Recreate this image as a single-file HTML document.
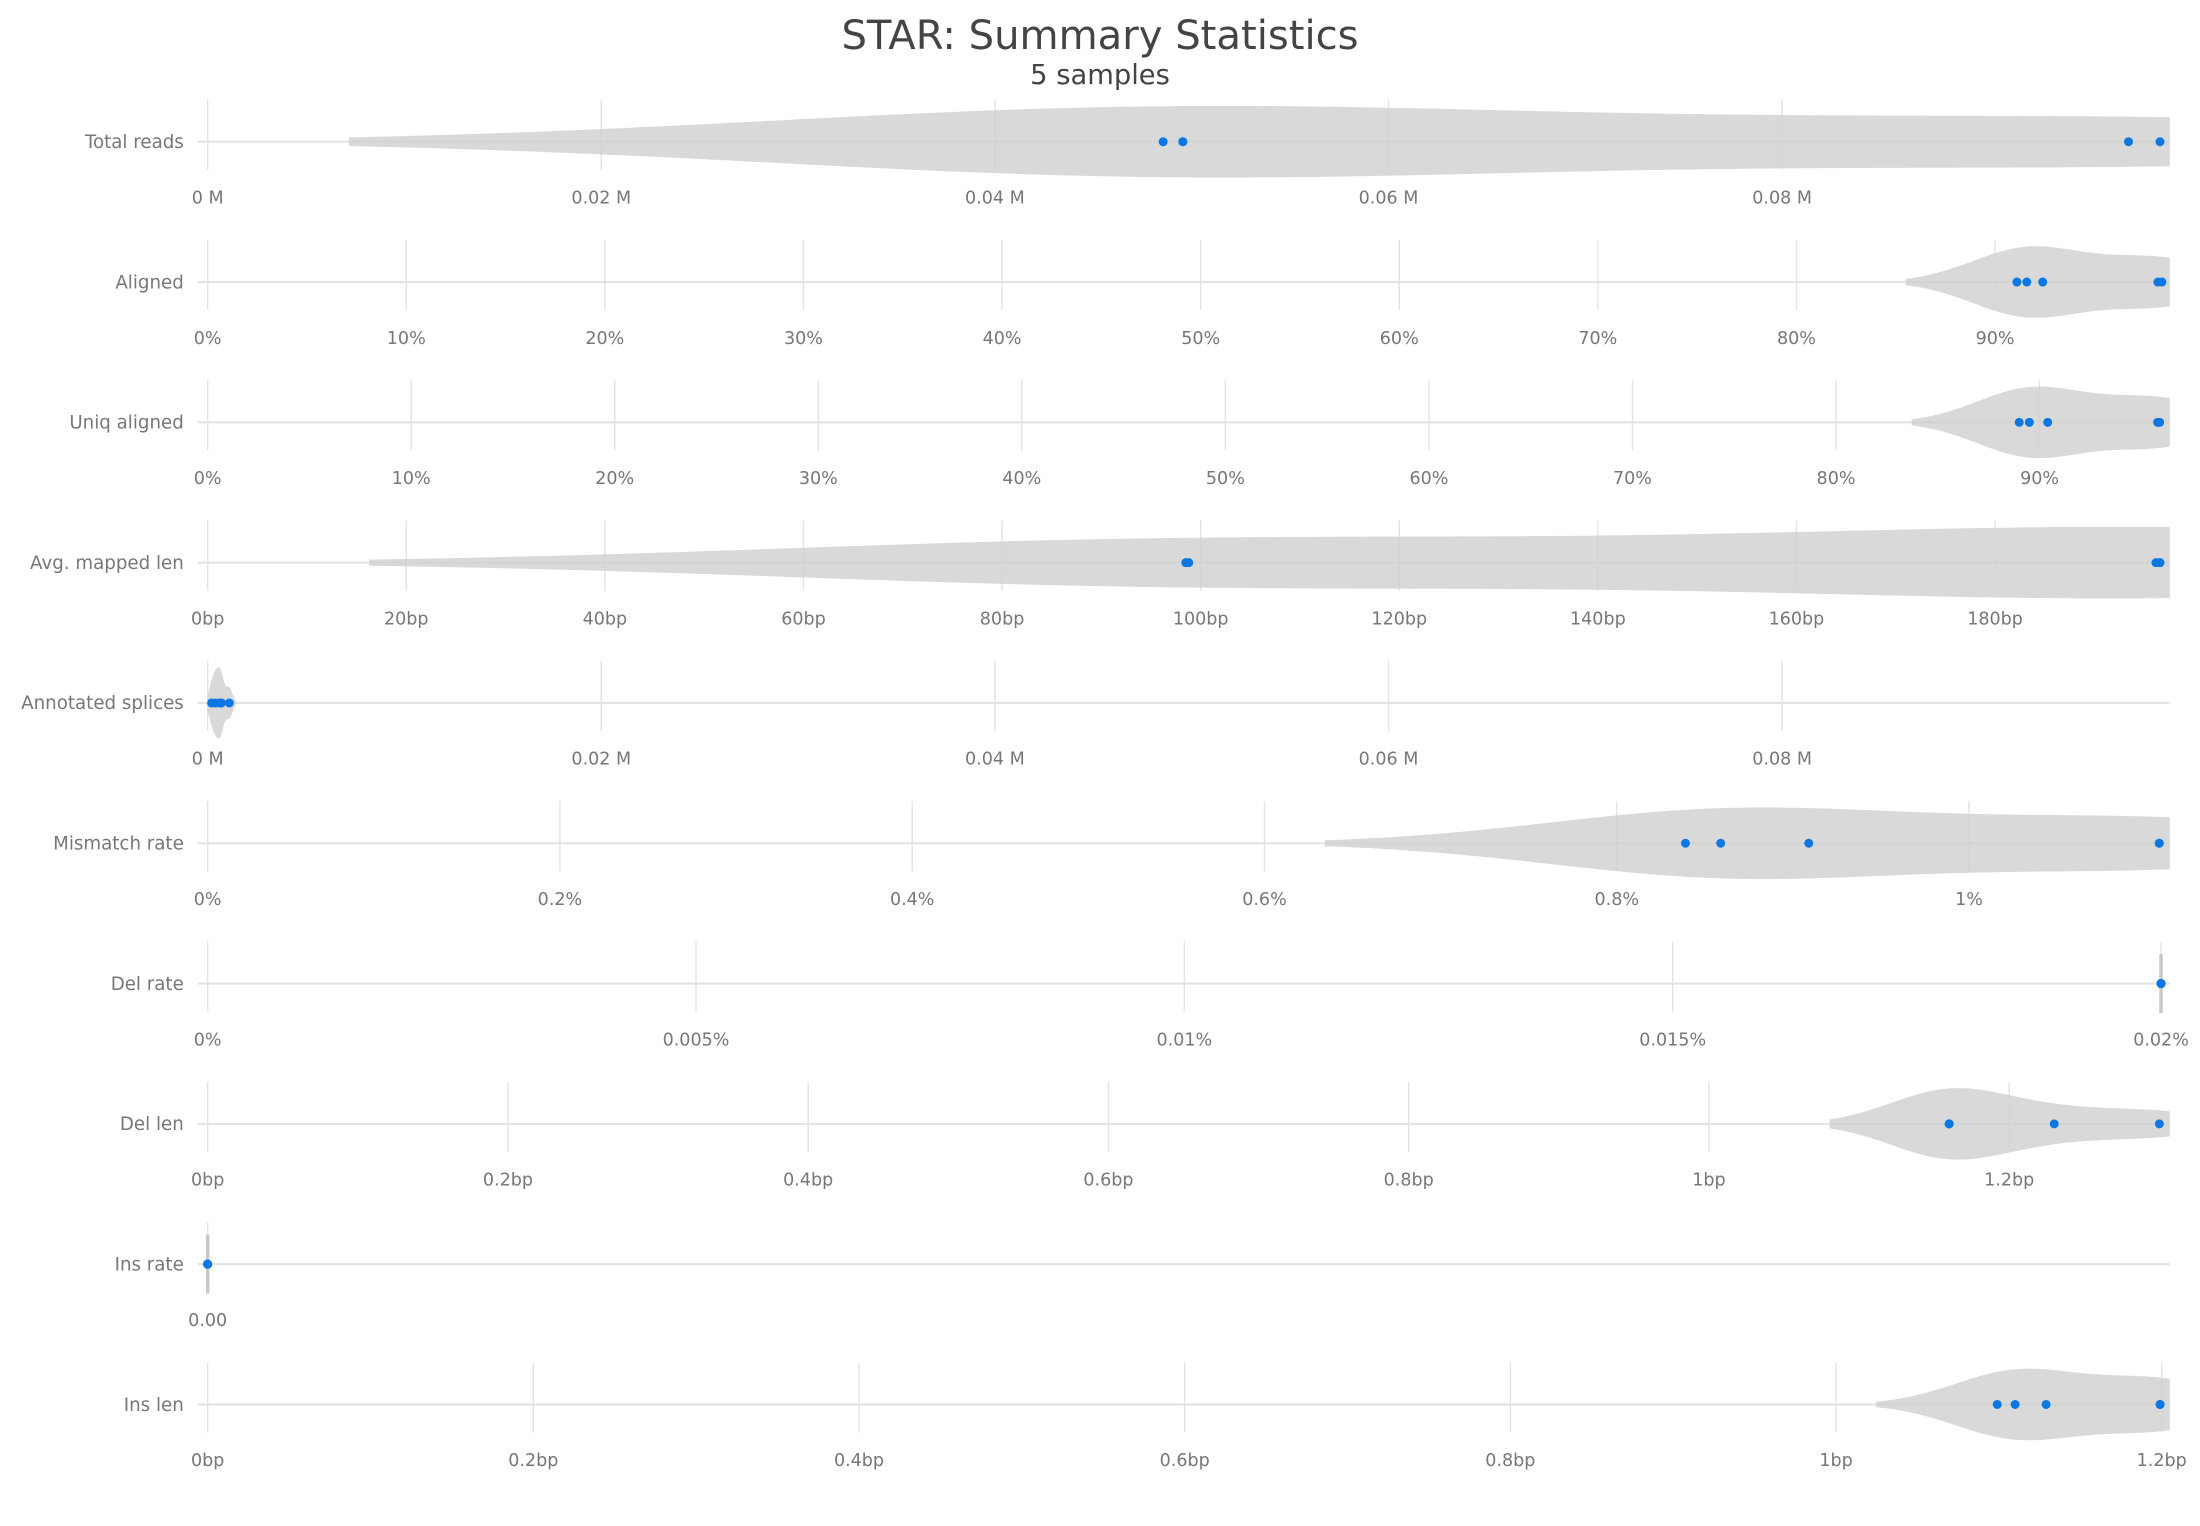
<!DOCTYPE html>
<html><head><meta charset="utf-8"><style>
html,body{margin:0;padding:0;background:#fff;}
svg{display:block;font-family:"DejaVu Sans","Liberation Sans",sans-serif;}
</style></head><body>
<svg id="chart" width="2200" height="1526" viewBox="0 0 1568 1087.6" xmlns="http://www.w3.org/2000/svg">
<defs><clipPath id="plotclip"><rect x="148" y="0" width="1398.5" height="1087.6"/></clipPath></defs>
<text x="784" y="35" text-anchor="middle" font-size="28.6" fill="#444">STAR: Summary Statistics</text>
<text x="784" y="60" text-anchor="middle" font-size="19.5" fill="#444">5 samples</text>
<g id="rows"></g>
</svg>
<script>
const rowLabels = ["Total reads","Aligned","Uniq aligned","Avg. mapped len","Annotated splices","Mismatch rate","Del rate","Del len","Ins rate","Ins len"];
const rowMax = [0.0997, 98.8, 96.4, 197.6, 0.0997, 1.114, 0.02009, 1.307, 1, 1.205];
const totalReads = [0.04855, 0.04955, 0.04955, 0.0976, 0.0992];
const aligned = [91.1, 91.6, 92.4, 98.2, 98.4];
const uniqAligned = [89.0, 89.5, 90.4, 95.8, 95.9];
const avgMappedLen = [98.5, 98.8, 196.2, 196.6, 196.6];
const annotatedSplices = [0.0002, 0.0004, 0.0006, 0.0007, 0.0011];
const mismatchRate = [0.839, 0.859, 0.909, 1.108, 1.108];
const delRate = [0.02, 0.02, 0.02, 0.02, 0.02];
const delLen = [1.160, 1.160, 1.160, 1.230, 1.300];
const insRate = [0, 0, 0, 0, 0];
const insLen = [1.099, 1.110, 1.129, 1.199, 1.199];
const rowValues = [totalReads, aligned, uniqAligned, avgMappedLen, annotatedSplices, mismatchRate, delRate, delLen, insRate, insLen];
const tickValues = [
 [0,0.02,0.04,0.06,0.08],
 [0,10,20,30,40,50,60,70,80,90],
 [0,10,20,30,40,50,60,70,80,90],
 [0,20,40,60,80,100,120,140,160,180],
 [0,0.02,0.04,0.06,0.08],
 [0,0.2,0.4,0.6,0.8,1],
 [0,0.005,0.01,0.015,0.02],
 [0,0.2,0.4,0.6,0.8,1,1.2],
 [0],
 [0,0.2,0.4,0.6,0.8,1,1.2]
];
const tickLabels = [
 ["0 M","0.02 M","0.04 M","0.06 M","0.08 M"],
 ["0%","10%","20%","30%","40%","50%","60%","70%","80%","90%"],
 ["0%","10%","20%","30%","40%","50%","60%","70%","80%","90%"],
 ["0bp","20bp","40bp","60bp","80bp","100bp","120bp","140bp","160bp","180bp"],
 ["0 M","0.02 M","0.04 M","0.06 M","0.08 M"],
 ["0%","0.2%","0.4%","0.6%","0.8%","1%"],
 ["0%","0.005%","0.01%","0.015%","0.02%"],
 ["0bp","0.2bp","0.4bp","0.6bp","0.8bp","1bp","1.2bp"],
 ["0.00"],
 ["0bp","0.2bp","0.4bp","0.6bp","0.8bp","1bp","1.2bp"]
];
const NS="http://www.w3.org/2000/svg";
const X0=148, X1=1546.5, MAXHW=25.5;
const g=document.getElementById('rows');
function mk(tag,attrs,parent){const e=document.createElementNS(NS,tag);for(const k in attrs)e.setAttribute(k,attrs[k]);(parent||g).appendChild(e);return e;}
function slug(s){return s.toLowerCase().replace(/[^a-z0-9]+/g,'-').replace(/-$/,'');}
rowLabels.forEach((lab,i)=>{
  const cy=101+i*100;
  const vals=rowValues[i];
  const sx=v=>X0+(v/rowMax[i])*(X1-X0);
  const grp=mk('g',{});
  
  
  tickValues[i].forEach((t,j)=>{
    const x=sx(t);
    const gl=mk('line',{x1:x,x2:x,y1:cy-30,y2:cy+20,stroke:'#e3e3e3','stroke-width':1},grp);
    
    
    const tl=mk('text',{x:x,y:cy+44,'text-anchor':'middle','font-size':12.5,fill:'#777'},grp);
    tl.textContent=tickLabels[i][j];
    
    
  });
  const zl=mk('line',{x1:141,x2:X1,y1:cy,y2:cy,stroke:'#e3e3e3','stroke-width':1.5},grp);
  
  
  const rl=mk('text',{x:131,y:cy+4.5,'text-anchor':'end','font-size':13,fill:'#777'},grp);
  rl.textContent=lab;
  
  
  const n=vals.length, mean=vals.reduce((a,b)=>a+b,0)/n;
  const sd=Math.sqrt(vals.reduce((a,b)=>a+(b-mean)*(b-mean),0)/(n-1));
  const s=[...vals].sort((a,b)=>a-b);
  const q=p=>{const h=(n-1)*p,l=Math.floor(h);return s[l]+(s[Math.min(l+1,n-1)]-s[l])*(h-l);};
  const iqr=q(0.75)-q(0.25);
  let m=sd; if(iqr>0) m=Math.min(sd,iqr/1.349);
  const bw=1.059*m*Math.pow(n,-0.2);
  let vp;
  if(bw>0){
    const lo=s[0]-2*bw, hi=s[n-1]+2*bw, N=200, xs=[], ds=[];
    for(let k=0;k<=N;k++){const v=lo+(hi-lo)*k/N;let d=0;vals.forEach(u=>{const z=(v-u)/bw;d+=Math.exp(-0.5*z*z);});xs.push(v);ds.push(d);}
    const dm=Math.max(...ds);
    let top='',bot='';
    xs.forEach((v,k)=>{top+=(k?'L':'M')+sx(v).toFixed(2)+','+(cy-ds[k]/dm*MAXHW).toFixed(2);});
    for(let k=N;k>=0;k--){bot+='L'+sx(xs[k]).toFixed(2)+','+(cy+ds[k]/dm*MAXHW).toFixed(2);}
    vp=mk('path',{d:top+bot+'Z',fill:'#d0d0d0','fill-opacity':0.8,'clip-path':'url(#plotclip)'},grp);
  } else {
    const x=sx(vals[0]);
    vp=mk('line',{x1:x,x2:x,y1:cy-21,y2:cy+21,stroke:'#c8c8c8','stroke-width':2.5},grp);
  }
  
  
  vals.forEach(v=>{
    const c=mk('circle',{cx:sx(v),cy:cy,r:3.2,fill:'#0b77e3'},grp);
    
    
  });
});
</script>
</body></html>
